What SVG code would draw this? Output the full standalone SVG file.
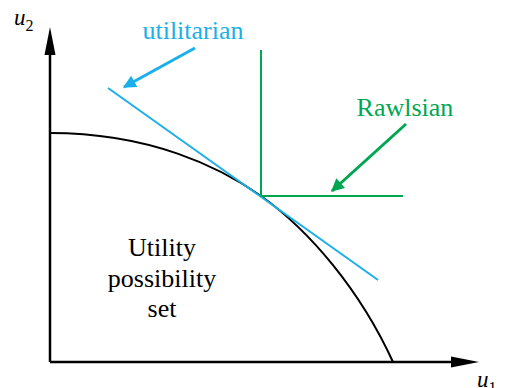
<svg xmlns="http://www.w3.org/2000/svg" width="507" height="388" viewBox="0 0 507 388">
<defs>
<marker id="ba" viewBox="0 0 10 10" refX="9" refY="5" markerWidth="20" markerHeight="13" markerUnits="userSpaceOnUse" orient="auto"><path d="M0,0L10,5L0,10z" fill="#1ab0ea"/></marker>
<marker id="ga" viewBox="0 0 10 10" refX="9" refY="5" markerWidth="20" markerHeight="13" markerUnits="userSpaceOnUse" orient="auto"><path d="M0,0L10,5L0,10z" fill="#00a651"/></marker>
</defs>
<g id="axes" stroke="#000" stroke-width="2.5" fill="none">
<path d="M50,362V45"/>
<path d="M50,362H460"/>
<polygon points="50,27 44.5,55 55.5,55" fill="#000" stroke="none"/>
<polygon points="479,362 451,356.5 451,367.5" fill="#000" stroke="none"/>
</g>
<g id="axis-labels" font-family="Liberation Serif, serif" font-size="23" font-style="italic" fill="#000">
<text x="14" y="25">u<tspan font-style="normal" font-size="16" dy="6">2</tspan></text>
<text x="477" y="387">u<tspan font-style="normal" font-size="16" dy="6">1</tspan></text>
</g>
<g id="frontier">
<path d="M50,133 C150,133 220,167 261,196 C310,231 360,290 393,362" stroke="#000" stroke-width="2" fill="none"/>
</g>
<g id="utilitarian">
<line x1="108" y1="88" x2="378" y2="280" stroke="#1ab0ea" stroke-width="2"/>
<text font-family="Liberation Serif, serif" font-size="26" text-anchor="middle" x="193" y="39" fill="#1ab0ea">utilitarian</text>
</g>
<g id="rawlsian">
<path d="M261,50V196H403" stroke="#00a651" stroke-width="2" fill="none"/>
<text font-family="Liberation Serif, serif" font-size="26" text-anchor="middle" x="405" y="116" fill="#00a651">Rawlsian</text>
</g>
<g id="set" font-family="Liberation Serif, serif" font-size="26" text-anchor="middle" fill="#000">
<text x="162" y="256">Utility</text>
<text x="162" y="287">possibility</text>
<text x="162" y="317">set</text>
</g>
<g id="connectors" fill="none" stroke-width="3">
<path d="M195,48L124,87" stroke="#1ab0ea" marker-end="url(#ba)"/>
<path d="M406,124L332,191" stroke="#00a651" marker-end="url(#ga)"/>
</g>
</svg>
